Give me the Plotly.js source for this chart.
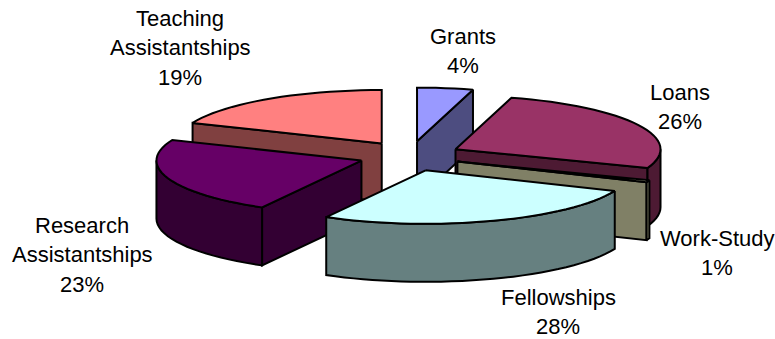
<!DOCTYPE html>
<html>
<head>
<meta charset="utf-8">
<script src="https://cdn.plot.ly/plotly-3.0.1.min.js"></script>
<style>html,body{margin:0;padding:0;background:#fff}#chart{width:775px;height:339px}</style>
</head>
<body>
<div id="chart"></div>
<script>
// Data (share of funding, percent)
var categories = ["Grants", "Loans", "Work-Study", "Fellowships", "Research Assistantships", "Teaching Assistantships"];
var values = [4.4, 26.3, 0.6, 27.5, 22.5, 18.7];
var labelLines = [["Grants"], ["Loans"], ["Work-Study"], ["Fellowships"], ["Research", "Assistantships"], ["Teaching", "Assistantships"]];

// Styles
var topColors = ["#9999FF", "#993366", "#FFFFCC", "#CCFFFF", "#660066", "#FF8080"];
var wallColors = ["#4D4D80", "#4D1A33", "#808066", "#668080", "#330033", "#804040"];
var drawOrder = [0, 5, 1, 2, 4, 3];
var labelCentreX = [463, 680, 717, 558, 82, 180];
var labelFirstY = [36, 92, 238, 297, 225, 18];

// Pie projection
var CX = 410, CY = 156, RX = 205, RY = 53.5, EX = 51, EY = 15, DEPTH = 58;
var LINE_H = 29.5, FONT = 22;

var total = values.reduce(function (a, b) { return a + b; }, 0);
var rad = function (d) { return d * Math.PI / 180; };

// the lower-left quadrant of the drawn ellipse is slightly skewed in the 3-D view
function view(ang) { return (ang > 180 && ang < 270) ? ang - 3 * Math.sin(rad(2 * ang)) : ang; }
function apex(mid) { return [CX + EX * Math.sin(rad(mid)), CY - EY * Math.cos(rad(mid))]; }
function rim(c, ang, dz) {
  var v = rad(view(ang));
  return [c[0] + RX * Math.sin(v), c[1] - RY * Math.cos(v) + (dz || 0)];
}
function arc(c, a0, a1, dz) {
  var pts = [], n = Math.max(2, Math.ceil(Math.abs(a1 - a0) / 3));
  for (var i = 0; i <= n; i++) pts.push(rim(c, a0 + (a1 - a0) * i / n, dz));
  return pts;
}
function face(pts, color) {
  var closed = pts.concat([pts[0]]);
  return {
    type: "scatter", mode: "lines", fill: "toself", fillcolor: color,
    x: closed.map(function (p) { return p[0]; }),
    y: closed.map(function (p) { return p[1]; }),
    line: { color: "#000", width: 2, simplify: false },
    hoverinfo: "skip", showlegend: false
  };
}

var bounds = [], acc = 0;
values.forEach(function (v) { bounds.push([acc / total * 360, (acc + v) / total * 360]); acc += v; });

var traces = [];
drawOrder.forEach(function (i) {
  var a0 = bounds[i][0], a1 = bounds[i][1], c = apex((a0 + a1) / 2);
  var low = [c[0], c[1] + DEPTH];
  if (Math.sin(rad(a0)) < -1e-6) {
    traces.push(face([c, rim(c, a0), rim(c, a0, DEPTH), low], wallColors[i]));
  }
  if (Math.sin(rad(a1)) > 1e-6) {
    traces.push(face([c, rim(c, a1), rim(c, a1, DEPTH), low], wallColors[i]));
  }
  var w0 = Math.max(a0, 90), w1 = Math.min(a1, 270);
  if (w1 > w0) {
    traces.push(face(arc(c, w0, w1, 0).concat(arc(c, w1, w0, DEPTH)), wallColors[i]));
  }
  traces.push(face([c].concat(arc(c, a0, a1, 0)), topColors[i]));
});

var annotations = [];
categories.forEach(function (name, i) {
  var lines = labelLines[i].concat([Math.round(values[i]) + "%"]);
  lines.forEach(function (t, k) {
    annotations.push({
      xref: "x", yref: "y", x: labelCentreX[i], y: labelFirstY[i] + k * LINE_H,
      text: t, showarrow: false, xanchor: "center", yanchor: "middle",
      borderpad: 0,
      font: { family: "Liberation Sans, Arial, sans-serif", size: FONT, color: "#000" }
    });
  });
});

Plotly.newPlot("chart", traces, {
  width: 775, height: 339,
  margin: { l: 0, r: 0, t: 0, b: 0 },
  paper_bgcolor: "#fff", plot_bgcolor: "#fff",
  xaxis: { range: [0, 775], visible: false, fixedrange: true },
  yaxis: { range: [339, 0], visible: false, fixedrange: true },
  annotations: annotations,
  showlegend: false
}, { displayModeBar: false, staticPlot: true });
</script>
</body>
</html>
